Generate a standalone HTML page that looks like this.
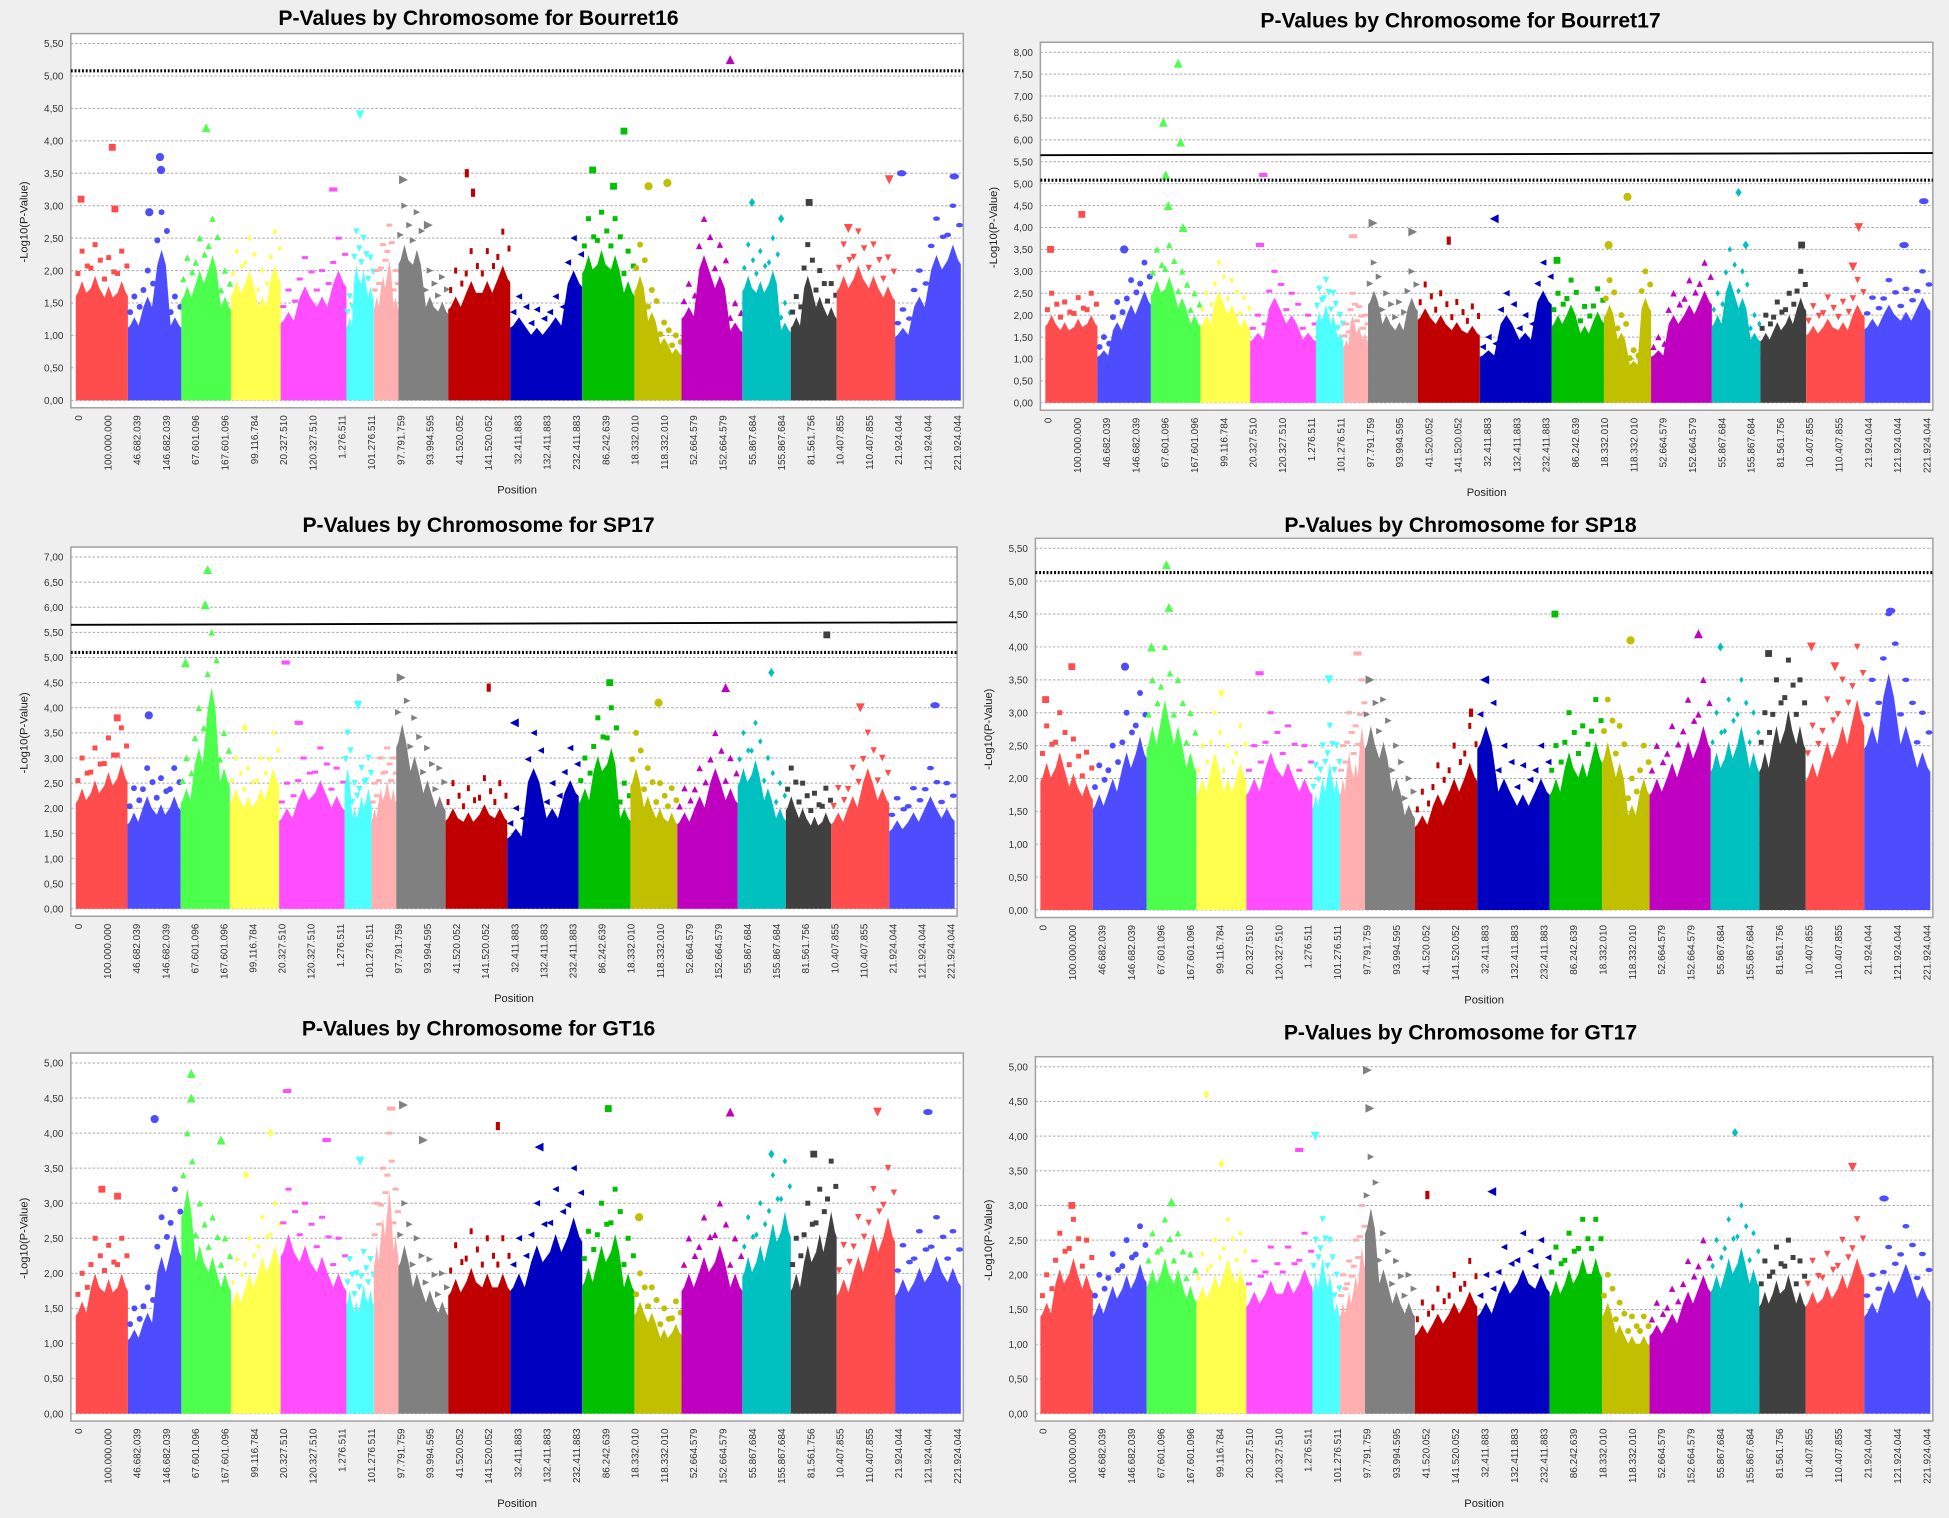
<!DOCTYPE html>
<html><head><meta charset="utf-8"><title>Manhattan plots</title>
<style>
html,body{margin:0;padding:0;background:#efefef;}
svg{display:block;font-family:"Liberation Sans",sans-serif;}
</style></head>
<body>
<svg id="fig" width="1949" height="1518" viewBox="0 0 1568 1221" preserveAspectRatio="none" xmlns="http://www.w3.org/2000/svg"></svg>
<script>
const chromLen = [42,43,40,40,53,22,20,40,50,58,42,38,49,39,37,47,53];
const chromColors = ["#ff4d4d","#4d4dff","#4dff4d","#ffff4d","#ff4dff","#4dffff","#ffafaf","#808080","#c00000","#0000c0","#00c000","#c0c000","#c000c0","#00c0c0","#404040","#ff4d4d","#4d4dff"];
const chromShapes = ["sq","ci","tu","di","hr","td","hr","tr","vr","tl","sq","ci","tu","di","sq","td","el"];
const xTickLabels = ["0","100.000.000","46.682.039","146.682.039","67.601.096","167.601.096","99.116.784","20.327.510","120.327.510","1.276.511","101.276.511","97.791.759","93.994.595","41.520.052","141.520.052","32.411.883","132.411.883","232.411.883","86.242.639","18.332.010","118.332.010","52.664.579","152.664.579","55.867.684","155.867.684","81.561.756","10.407.855","110.407.855","21.924.044","121.924.044","221.924.044"];
const titles = ["Bourret16","Bourret17","SP17","SP18","GT16","GT17"];
const yMaxes = [5.5,8,7,5.5,5,5];
const dottedThr = [5.08,5.08,5.1,5.13,null,null];
const solidThr = [null,5.65,5.65,null,null,null];

const envA = [[2.3,2.4,2.2,2.3],[1.6,2.0,2.9,1.6],[2.2,2.5,2.8,2.0],[2.3,2.5,2.0,2.6],[1.7,2.2,2.0,2.5],[1.6,2.6,2.5,2.2],[2.0,2.4,2.7,2.0],[3.0,2.9,2.0,1.9],[2.0,2.3,2.3,2.6],[1.6,1.4,1.6,2.5],[2.8,2.9,2.8,2.3],[2.4,1.7,1.2,1.0],[1.8,2.8,2.4,1.5],[2.4,2.3,2.5,1.5],[1.6,2.4,2.0,1.8],[2.4,2.6,2.4,2.2],[1.4,2.0,2.8,3.0]];
const envB = [[2.5,2.3,2.4,2.5],[1.5,2.3,2.8,3.2],[3.5,3.6,3.0,2.5],[2.5,3.2,2.8,2.4],[2.0,3.0,2.5,2.0],[2.6,2.8,2.5,2.0],[1.8,2.5,2.2,2.0],[3.2,2.5,2.3,3.0],[2.7,2.5,2.3,2.2],[1.5,2.5,2.0,3.2],[2.5,2.8,2.2,2.6],[2.8,2.0,1.2,3.0],[1.5,2.5,2.8,3.2],[2.5,3.5,3.0,2.0],[2.0,2.3,2.5,3.0],[2.2,2.4,2.3,2.8],[2.4,2.8,2.6,3.0]];
const envC = [[3.0,3.2,3.4,3.6],[2.4,2.8,2.6,2.8],[3.0,4.0,5.5,3.5],[3.0,2.8,3.0,3.5],[2.5,3.0,3.2,2.8],[3.5,2.5,2.8,3.0],[2.5,3.0,3.2,3.0],[4.6,3.8,3.2,2.8],[2.5,2.4,2.6,2.5],[2.0,3.5,2.5,3.2],[3.0,3.8,4.0,2.5],[3.5,2.8,2.5,2.4],[2.4,2.8,3.5,3.0],[3.5,3.7,3.0,2.5],[2.8,2.5,2.3,2.4],[2.4,2.8,3.5,3.0],[2.2,2.4,2.8,2.5]];
const envD = [[2.8,3.0,2.6,2.4],[2.2,2.5,3.0,3.3],[3.5,4.0,3.5,3.0],[2.5,3.0,2.5,2.8],[2.5,3.0,2.8,2.5],[2.2,2.5,2.8,2.5],[2.5,3.0,2.8,3.5],[3.5,3.2,2.5,2.0],[1.8,2.2,2.5,2.8],[3.5,2.5,2.2,2.5],[2.5,3.0,2.8,3.2],[3.2,2.8,2.0,2.5],[2.5,2.8,3.2,3.5],[3.0,3.2,3.5,3.0],[3.0,3.5,3.8,3.5],[2.8,3.2,3.5,4.0],[3.5,4.5,3.5,3.0]];
const envE = [[2.0,2.5,2.4,2.5],[1.5,1.8,2.8,3.2],[4.0,3.0,2.8,2.5],[2.2,2.5,2.8,3.0],[3.2,3.0,2.8,2.5],[2.2,2.0,2.3,2.2],[3.0,3.5,4.0,3.2],[3.0,2.5,2.2,2.0],[2.4,2.6,2.5,2.5],[2.5,3.0,3.2,3.5],[2.6,3.0,3.2,2.5],[2.0,1.8,1.5,1.6],[2.5,2.8,3.0,2.5],[2.8,3.0,3.4,3.6],[2.5,3.0,3.2,3.6],[2.4,2.8,3.2,3.5],[2.4,2.6,2.8,2.6]];
const envF = [[2.0,2.6,2.8,2.5],[2.0,2.3,2.5,2.7],[2.6,2.8,2.6,2.3],[2.3,2.5,2.8,2.6],[2.2,2.4,2.4,2.6],[2.5,2.8,2.5,2.0],[2.0,2.2,2.5,3.0],[3.7,2.6,2.2,2.0],[1.6,1.8,2.0,2.2],[2.0,2.4,2.6,2.5],[2.4,2.6,2.8,2.8],[2.0,1.6,1.4,1.4],[1.6,1.8,2.2,2.5],[2.5,2.8,3.0,2.6],[2.2,2.4,2.5,2.2],[2.2,2.3,2.5,2.8],[2.0,2.4,2.7,2.3]];

const outA = [[0,0.1,3.1],[0,0.7,3.9],[0,0.75,2.95],[1,0.6,3.75],[1,0.62,3.55],[1,0.4,2.9],[2,0.5,4.2],[4,0.8,3.25],[5,0.5,4.4],[7,0.1,3.4],[7,0.6,2.7],[8,0.3,3.5],[8,0.4,3.2],[10,0.2,3.55],[10,0.8,4.15],[10,0.6,3.3],[11,0.3,3.3],[11,0.7,3.35],[12,0.8,5.25],[13,0.2,3.05],[13,0.8,2.8],[14,0.4,3.05],[15,0.2,2.65],[15,0.9,3.4],[16,0.1,3.5],[16,0.9,3.45]];
const outB = [[0,0.1,3.5],[0,0.7,4.3],[1,0.5,3.5],[2,0.55,7.75],[2,0.25,6.4],[2,0.6,5.95],[2,0.3,5.2],[2,0.35,4.5],[2,0.65,4.0],[4,0.2,5.2],[4,0.15,3.6],[6,0.4,3.8],[7,0.1,4.1],[7,0.9,3.9],[8,0.5,3.7],[9,0.2,4.2],[10,0.1,3.25],[11,0.5,4.7],[11,0.1,3.6],[13,0.55,4.8],[13,0.7,3.6],[14,0.9,3.6],[15,0.9,4.0],[15,0.8,3.1],[16,0.6,3.6],[16,0.9,4.6]];
const outC = [[0,0.8,3.8],[1,0.4,3.85],[2,0.55,6.75],[2,0.5,6.05],[2,0.1,4.9],[3,0.3,3.6],[4,0.1,4.9],[4,0.3,3.7],[5,0.5,4.05],[7,0.1,4.6],[8,0.7,4.4],[9,0.1,3.7],[10,0.6,4.5],[11,0.6,4.1],[12,0.8,4.4],[13,0.7,4.7],[14,0.9,5.45],[15,0.5,4.0],[16,0.7,4.05]];
const outD = [[0,0.6,3.7],[0,0.1,3.2],[1,0.6,3.7],[2,0.4,5.25],[2,0.45,4.6],[2,0.1,4.0],[3,0.5,3.3],[4,0.2,3.6],[5,0.6,3.5],[6,0.7,3.9],[7,0.1,3.5],[8,0.9,3.0],[9,0.1,3.5],[10,0.1,4.5],[11,0.6,4.1],[12,0.8,4.2],[13,0.2,4.0],[14,0.2,3.9],[15,0.1,4.0],[15,0.5,3.7],[16,0.4,4.55]];
const outE = [[0,0.5,3.2],[0,0.8,3.1],[1,0.5,4.2],[2,0.2,4.85],[2,0.2,4.5],[2,0.8,3.9],[3,0.8,4.0],[3,0.3,3.4],[4,0.1,4.6],[4,0.7,3.9],[5,0.5,3.6],[6,0.7,4.35],[7,0.1,4.4],[7,0.5,3.9],[8,0.8,4.1],[9,0.4,3.8],[10,0.5,4.35],[11,0.1,2.8],[12,0.8,4.3],[13,0.6,3.7],[14,0.5,3.7],[15,0.7,4.3],[16,0.5,4.3]];
const outF = [[0,0.6,3.0],[2,0.5,3.05],[3,0.2,4.6],[3,0.5,3.6],[4,0.8,3.8],[5,0.1,4.0],[7,0.05,4.95],[7,0.1,4.4],[8,0.2,3.15],[9,0.2,3.2],[13,0.5,4.05],[15,0.8,3.55],[16,0.3,3.1]];

const envs = [envA,envB,envC,envD,envE,envF];
const outs = [outA,outB,outC,outD,outE,outF];

const panels = [
 {x0:57,x1:775,yTop:35,yBot:322,tx:385,ty:20},
 {x0:837,x1:1555,yTop:42,yBot:324,tx:1175,ty:22},
 {x0:57,x1:770,yTop:448,yBot:731,tx:385,ty:428},
 {x0:833,x1:1555,yTop:441,yBot:732,tx:1175,ty:428},
 {x0:57,x1:775,yTop:855,yBot:1137,tx:385,ty:833},
 {x0:833,x1:1555,yTop:858,yBot:1137,tx:1175,ty:836}
];
const NS="http://www.w3.org/2000/svg";
const svg=document.getElementById('fig');
function mk(tag,attrs,parent){const e=document.createElementNS(NS,tag);for(const k in attrs)e.setAttribute(k,attrs[k]);(parent||svg).appendChild(e);return e;}
const totalLen=chromLen.reduce((a,b)=>a+b,0);
function fmt(v){return v.toFixed(2).replace('.',',');}

function marker(g,shape,cx,cy,s,color){
  let e;
  if(shape==="ci"){e=mk('circle',{cx:cx,cy:cy,r:s*0.6,fill:color},g);}
  else if(shape==="el"){e=mk('ellipse',{cx:cx,cy:cy,rx:s*0.7,ry:s*0.45,fill:color},g);}
  else if(shape==="sq"){e=mk('rect',{x:cx-s/2,y:cy-s/2,width:s,height:s,fill:color},g);}
  else if(shape==="hr"){e=mk('rect',{x:cx-s*0.6,y:cy-s*0.3,width:s*1.2,height:s*0.6,fill:color},g);}
  else if(shape==="vr"){e=mk('rect',{x:cx-s*0.3,y:cy-s*0.6,width:s*0.6,height:s*1.2,fill:color},g);}
  else {
    let p;const h=s*0.65;
    if(shape==="tu")p=[[cx,cy-h],[cx+h,cy+h],[cx-h,cy+h]];
    else if(shape==="td")p=[[cx,cy+h],[cx+h,cy-h],[cx-h,cy-h]];
    else if(shape==="tr")p=[[cx+h,cy],[cx-h,cy-h],[cx-h,cy+h]];
    else if(shape==="tl")p=[[cx-h,cy],[cx+h,cy-h],[cx+h,cy+h]];
    else p=[[cx,cy-h],[cx+h*0.7,cy],[cx,cy+h],[cx-h*0.7,cy]];
    e=mk('polygon',{points:p.map(q=>q.join(',')).join(' '),fill:color},g);
  }
  
  
  return e;
}

panels.forEach((P,pi)=>{
  const g=mk('g',{});
  
  
  const ymax=yMaxes[pi];
  const yS=v=>P.yBot-(v/ymax)*(P.yBot-P.yTop);
  const xS=f=>P.x0+4+(f/totalLen)*(P.x1-P.x0-6);

  const t=mk('text',{x:P.tx,y:P.ty,'text-anchor':'middle','font-size':17,'font-weight':'bold',fill:'#000'},g);
  t.textContent='P-Values by Chromosome for '+titles[pi];
  
  

  const bg=mk('rect',{x:P.x0,y:P.yTop-8,width:P.x1-P.x0,height:P.yBot-P.yTop+14,fill:'#fff',stroke:'#a0a0a0','stroke-width':1.2},g);
  
  

  for(let v=0;v<=ymax+1e-9;v+=0.5){
    const y=yS(v);
    const gl=mk('line',{x1:P.x0,x2:P.x1,y1:y,y2:y,stroke:'#a8a8a8','stroke-width':0.8,'stroke-dasharray':'2,1.5'},g);
    
    
    const tl=mk('text',{x:P.x0-6,y:y+3,'text-anchor':'end','font-size':8,fill:'#333'},g);
    tl.textContent=fmt(v);
    
    
  }
  const yt=mk('text',{x:0,y:0,'text-anchor':'middle','font-size':9,fill:'#222',transform:`translate(${P.x0-35},${(P.yTop+P.yBot)/2}) rotate(-90)`},g);
  yt.textContent='-Log10(P-Value)';
  
  

  let cum=0;
  const env=envs[pi];
  chromLen.forEach((L,ci)=>{
    const a=xS(cum),b=xS(cum+L),w=b-a;
    const e=env[ci];
    const fr=[0.12,0.37,0.63,0.88];
    const pts=[[a,yS(0)],[a,yS(e[0]*0.7)]];
    fr.forEach((f,k)=>{pts.push([a+w*(f-0.08),yS(e[k]*0.72)]);pts.push([a+w*f,yS(e[k]*0.8)]);pts.push([a+w*(f+0.08),yS(e[k]*0.72)]);});
    pts.push([b,yS(e[3]*0.7)],[b,yS(0)]);
    const body=mk('polygon',{points:pts.map(q=>q.map(n=>n.toFixed(1)).join(',')).join(' '),fill:chromColors[ci]},g);
    
    
    fr.forEach((f,k)=>{
      marker(g,chromShapes[ci],a+w*f,yS(e[k]),4,chromColors[ci]);
      marker(g,chromShapes[ci],a+w*(f+0.1),yS(e[k]*0.9),4,chromColors[ci]);
      marker(g,chromShapes[ci],a+w*(f-0.08),yS(e[k]*0.85),4,chromColors[ci]);
    });
    cum+=L;
  });
  outs[pi].forEach(o=>{
    let s=0;for(let i=0;i<o[0];i++)s+=chromLen[i];
    const cx=xS(s+chromLen[o[0]]*o[1]);
    marker(g,chromShapes[o[0]],cx,yS(o[2]),5.5,chromColors[o[0]]);
  });
  if(dottedThr[pi]!==null){
    const l=mk('line',{x1:P.x0,x2:P.x1,y1:yS(dottedThr[pi]),y2:yS(dottedThr[pi]),stroke:'#000','stroke-width':2.5,'stroke-dasharray':'1.5,1.5'},g);
    
    
  }
  if(solidThr[pi]!==null){
    const l=mk('line',{x1:P.x0,x2:P.x1,y1:yS(solidThr[pi]),y2:yS(solidThr[pi]+0.05),stroke:'#000','stroke-width':1.5},g);
    
    
  }
  const n=xTickLabels.length;
  xTickLabels.forEach((lab,i)=>{
    const x=P.x0+6+i*(P.x1-P.x0-11)/(n-1);
    const tx=mk('text',{x:0,y:0,'text-anchor':'end','font-size':8,fill:'#333',transform:`translate(${x+3},${P.yBot+12}) rotate(-90)`},g);
    tx.textContent=lab;
    
    
  });
  const xt=mk('text',{x:(P.x0+P.x1)/2,y:P.yBot+75,'text-anchor':'middle','font-size':9,fill:'#222'},g);
  xt.textContent='Position';
  
  
});
</script>
</body></html>
